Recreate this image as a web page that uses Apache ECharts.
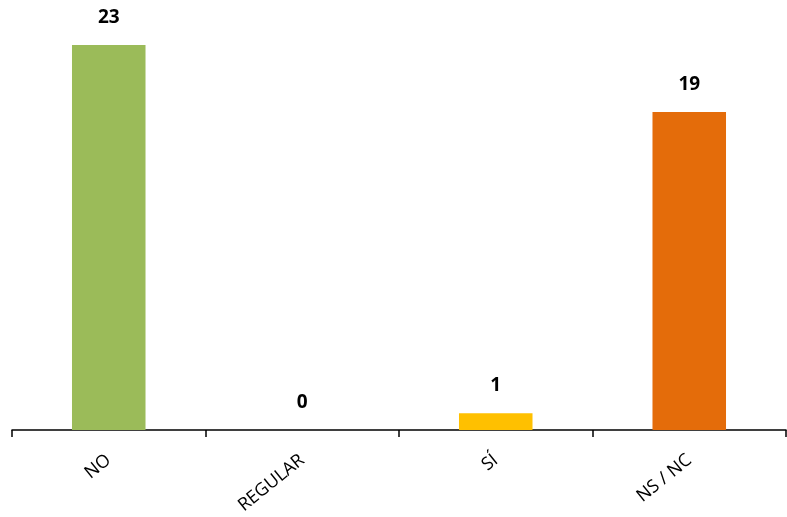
<!DOCTYPE html>
<html><head><meta charset="utf-8">
<script src="https://cdn.jsdelivr.net/npm/echarts@6/dist/echarts.min.js"></script>
<style>html,body{margin:0;padding:0;background:#fff}#c{width:787px;height:517px}</style>
</head><body><div id="c"></div>
<script>
const categories = ["NO", "REGULAR", "SÍ", "NS / NC"];
const values = [23, 0, 1, 19];
const colors = ["#9BBB59", "#A5A5A5", "#FFC000", "#E46C0A"];

const chart = echarts.init(document.getElementById('c'));
chart.setOption({
  animation: false,
  grid: {left: 12, right: 1, top: 45, bottom: 87},
  xAxis: {
    type: 'category', data: categories,
    axisLine: {lineStyle: {color: '#000', width: 1.5}},
    axisTick: {show: true, length: 7, lineStyle: {color: '#000', width: 1.5}},
    axisLabel: {rotate: 39, margin: 28, fontFamily: 'Open Sans', fontSize: 18, color: '#000'}
  },
  yAxis: {type: 'value', min: 0, max: 23, show: false, splitLine: {show: false}},
  series: [{
    type: 'bar', barCategoryGap: '62%',
    data: values.map((v, i) => ({value: v, itemStyle: {color: colors[i]}})),
    label: {show: true, position: 'top', distance: 18, fontFamily: 'Open Sans', fontWeight: 'bold', fontSize: 19, color: '#000'}
  }]
});
</script></body></html>
